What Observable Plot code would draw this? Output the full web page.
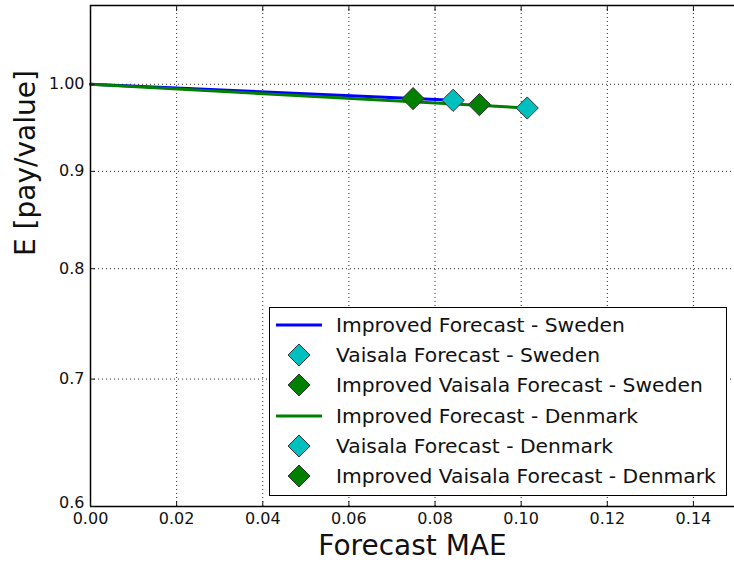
<!DOCTYPE html>
<html>
<head>
<meta charset="utf-8">
<script src="https://cdn.jsdelivr.net/npm/d3@7"></script>
<script src="https://cdn.jsdelivr.net/npm/@observablehq/plot@0.6"></script>
<style>
  html, body { margin: 0; padding: 0; background: white; }
  #wrap { position: relative; width: 734px; height: 562px; overflow: hidden; font-family: "DejaVu Sans", sans-serif; }
  #legend { position: absolute; left: 269px; top: 307px; width: 456px; height: 187px; border: 1px solid #000; background: white; box-sizing: content-box; }
  .row { position: absolute; left: 0; height: 30px; width: 100%; }
  .row svg { position: absolute; left: 6px; top: 0; }
  .row span { position: absolute; left: 66px; top: 2px; font-size: 20.3px; line-height: 26px; color: #111; white-space: nowrap; }
</style>
</head>
<body>
<div id="wrap"></div>
<script>
// ---- data ----
const xTicks = [0, 0.02, 0.04, 0.06, 0.08, 0.10, 0.12, 0.14];
const xTickLabels = ["0.00", "0.02", "0.04", "0.06", "0.08", "0.10", "0.12", "0.14"];
const yTicks = [0.6, 0.7, 0.8, 0.9, 1.0];
const yTickLabels = ["0.6", "0.7", "0.8", "0.9", "1.00"];
const xDomain = [0, 0.15];
const yDomain = [0.6, 1.1];

// Improved forecast lines
const swedenLineMAE = [0, 0.0842];
const swedenLineE = [1.0, 0.9808];
const denmarkLineMAE = [0, 0.1014];
const denmarkLineE = [1.0, 0.9717];

// Vaisala forecast points [Sweden, Denmark]
const vaisalaMAE = [0.0842, 0.1014];
const vaisalaE = [0.9808, 0.9717];
// Improved Vaisala forecast points [Sweden, Denmark]
const improvedVaisalaMAE = [0.0749, 0.0903];
const improvedVaisalaE = [0.9828, 0.9757];

const legendLabels = [
  "Improved Forecast - Sweden",
  "Vaisala Forecast - Sweden",
  "Improved Vaisala Forecast - Sweden",
  "Improved Forecast - Denmark",
  "Vaisala Forecast - Denmark",
  "Improved Vaisala Forecast - Denmark"
];
const legendKinds = ["line", "diamond", "diamond", "line", "diamond", "diamond"];
const legendColors = ["#0000ff", "#00bfbf", "#008000", "#008000", "#00bfbf", "#008000"];

const xLabel = "Forecast MAE";
const yLabel = "E [pay/value]";

// ---- build tables ----
const swedenLine = swedenLineMAE.map((x, i) => ({x, y: swedenLineE[i]}));
const denmarkLine = denmarkLineMAE.map((x, i) => ({x, y: denmarkLineE[i]}));
const vaisala = vaisalaMAE.map((x, i) => ({x, y: vaisalaE[i]}));
const improved = improvedVaisalaMAE.map((x, i) => ({x, y: improvedVaisalaE[i]}));
const points = [
  {...improved[0], c: "#008000"},
  {...vaisala[0], c: "#00bfbf"},
  {...improved[1], c: "#008000"},
  {...vaisala[1], c: "#00bfbf"}
];

const grid = {stroke: "#000", strokeOpacity: 0.85, strokeWidth: 1, strokeDasharray: "1,3"};
const noText = () => "";
const yFmt = d => yTickLabels[yTicks.indexOf(d)];

const chart = Plot.plot({
  width: 734,
  height: 562,
  marginLeft: 90,
  marginTop: 5,
  marginBottom: 56,
  marginRight: 0,
  style: {fontFamily: "DejaVu Sans", fontSize: "16px", color: "#111", background: "white", overflow: "visible"},
  x: {domain: xDomain, range: [90, 736]},
  y: {type: "log", domain: yDomain},
  marks: [
    Plot.gridX(xTicks.slice(1), grid),
    Plot.gridY(yTicks.slice(1), grid),
    Plot.line(swedenLine, {x: "x", y: "y", stroke: "#0000ff", strokeWidth: 3}),
    Plot.line(denmarkLine, {x: "x", y: "y", stroke: "#008000", strokeWidth: 3}),
    Plot.dot(points, {x: "x", y: "y", symbol: "diamond2", r: 10, fill: "c", stroke: "#333", strokeWidth: 1}),
    // frame
    Plot.ruleX([xDomain[0]], {stroke: "#000", strokeWidth: 1.5}),
    Plot.ruleY(yDomain, {stroke: "#000", strokeWidth: 1.5}),
    // ticks
    Plot.axisX(xTicks, {anchor: "bottom", tickSize: 0, tickPadding: 6, fontSize: 16,
      tickFormat: d => xTickLabels[xTicks.indexOf(d)], label: null}),
    Plot.axisX(xTicks, {anchor: "bottom", tickSize: -5, tickFormat: noText, label: null}),
    Plot.axisX(xTicks, {anchor: "top", tickSize: -5, tickFormat: noText, label: null}),
    Plot.axisY(yTicks.slice(1), {anchor: "left", tickSize: 0, tickPadding: 6, fontSize: 16,
      tickFormat: yFmt, label: null}),
    Plot.axisY(yTicks.slice(0, 1), {anchor: "left", tickSize: 0, tickPadding: 6, fontSize: 16, dy: -4,
      tickFormat: yFmt, label: null}),
    Plot.axisY(yTicks, {anchor: "left", tickSize: -5, tickFormat: noText, label: null}),
    // axis titles
    Plot.text([yLabel], {frameAnchor: "left", dx: -64, rotate: -90, lineAnchor: "middle", fontSize: 28, fill: "#111", text: d => d}),
    Plot.text([xLabel], {frameAnchor: "bottom", dy: 40, lineAnchor: "middle", fontSize: 28, fill: "#111", text: d => d})
  ]
});

const wrap = document.getElementById("wrap");
wrap.appendChild(chart);

// legend overlay
const legend = document.createElement("div");
legend.id = "legend";
legendLabels.forEach((lab, i) => {
  const row = document.createElement("div");
  row.className = "row";
  row.style.top = (2 + i * 30.2) + "px";
  let sw;
  if (legendKinds[i] === "line") {
    sw = `<svg width="48" height="30"><line x1="0" y1="15" x2="46" y2="15" stroke="${legendColors[i]}" stroke-width="3"/></svg>`;
  } else {
    sw = `<svg width="48" height="30"><path d="M23,4 L34,15 L23,26 L12,15 Z" fill="${legendColors[i]}" stroke="#333" stroke-width="1"/></svg>`;
  }
  row.innerHTML = sw + `<span>${lab}</span>`;
  legend.appendChild(row);
});
wrap.appendChild(legend);
</script>
</body>
</html>
